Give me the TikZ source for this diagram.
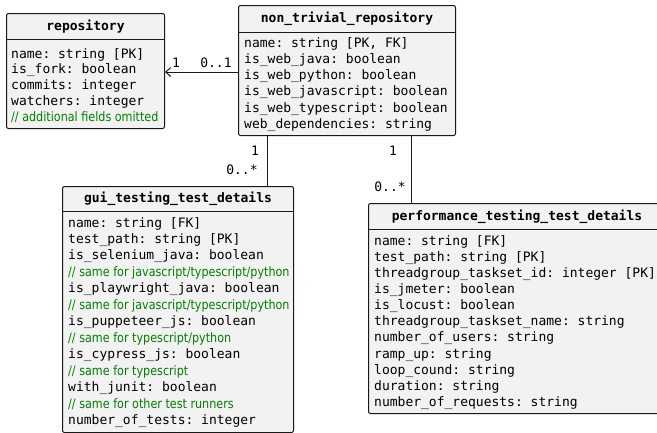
\documentclass[tikz,border=0pt]{standalone}
\usepackage{fontspec}
\setmonofont{DejaVu Sans Mono}
\newfontfamily\cmtfont[FakeStretch=0.86]{DejaVu Sans}
\usetikzlibrary{arrows.meta,calc}
\definecolor{boxfill}{HTML}{F2F2F2}
\definecolor{boxline}{HTML}{181818}
\definecolor{cmtgreen}{HTML}{008000}
\tikzset{
  classbox/.style={draw=boxline, fill=boxfill, line width=1pt, rounded corners=2pt, inner sep=0pt, anchor=north west},
  ctitle/.style={font=\fontsize{13}{16}\selectfont\ttfamily\bfseries, inner sep=0pt},
  cbody/.style={font=\fontsize{13}{#1}\selectfont\ttfamily, align=left, inner sep=0pt, anchor=north west},
  cbody/.default=16.2,
  mult/.style={font=\fontsize{13}{16}\selectfont\ttfamily, inner sep=0pt},
  link/.style={draw=boxline, line width=0.9pt},
}
\newcommand{\cmt}[1]{{\cmtfont\color{cmtgreen}#1}}
\begin{document}
\begin{tikzpicture}[x=1pt,y=-1pt]
\useasboundingbox (0,0) rectangle (657,432);

% repository
\node[classbox, minimum width=158, minimum height=115] (repo) at (6,13) {};
\draw[boxline, line width=1pt] ([yshift=-26]repo.north west) -- ([yshift=-26]repo.north east);
\node[ctitle] (repoT) at ($(repo.north)+(0,13.5)$) {repository};
\node[cbody=15.8] (repoB) at ($(repo.north west)+(5,35)$) {name: string [PK]\\is\_fork: boolean\\commits: integer\\watchers: integer\\\cmt{// additional fields omitted}};

% non_trivial_repository
\node[classbox, minimum width=217, minimum height=130] (ntr) at (238,5) {};
\draw[boxline, line width=1pt] ([yshift=-27]ntr.north west) -- ([yshift=-27]ntr.north east);
\node[ctitle] (ntrT) at ($(ntr.north)+(0,13.5)$) {non\_trivial\_repository};
\node[cbody=16.3] (ntrB) at ($(ntr.north west)+(6,32)$) {name: string [PK, FK]\\is\_web\_java: boolean\\is\_web\_python: boolean\\is\_web\_javascript: boolean\\is\_web\_typescript: boolean\\web\_dependencies: string};

% gui_testing_test_details
\node[classbox, minimum width=231, minimum height=246] (gui) at (62,186) {};
\draw[boxline, line width=1pt] ([yshift=-25]gui.north west) -- ([yshift=-25]gui.north east);
\node[ctitle] (guiT) at ($(gui.north)+(0,13)$) {gui\_testing\_test\_details};
\node[cbody=16.45] (guiB) at ($(gui.north west)+(6,31)$) {name: string [FK]\\test\_path: string [PK]\\is\_selenium\_java: boolean\\\cmt{// same for javascript/typescript/python}\\is\_playwright\_java: boolean\\\cmt{// same for javascript/typescript/python}\\is\_puppeteer\_js: boolean\\\cmt{// same for typescript/python}\\is\_cypress\_js: boolean\\\cmt{// same for typescript}\\with\_junit: boolean\\\cmt{// same for other test runners}\\number\_of\_tests: integer};

% performance_testing_test_details
\node[classbox, minimum width=295, minimum height=210] (perf) at (368,203) {};
\draw[boxline, line width=1pt] ([yshift=-26]perf.north west) -- ([yshift=-26]perf.north east);
\node[ctitle] (perfT) at (517,216.5) {performance\_testing\_test\_details};
\node[cbody=16.15] (perfB) at ($(perf.north west)+(6,32)$) {name: string [FK]\\test\_path: string [PK]\\threadgroup\_taskset\_id: integer [PK]\\is\_jmeter: boolean\\is\_locust: boolean\\threadgroup\_taskset\_name: string\\number\_of\_users: string\\ramp\_up: string\\loop\_cound: string\\duration: string\\number\_of\_requests: string};

% associations
\draw[link, -{Straight Barb[length=5pt,width=9pt,line width=1pt]}] (ntr.west |- 0,72) -- (repo.east |- 0,72);
\node[mult] (m1) at (176,63) {1};
\node[mult] (m2) at (216,63) {0..1};

\coordinate (g1) at (267,135);
\draw[link] (g1) -- (g1 |- gui.north);
\node[mult] (m3) at (255,151) {1};
\node[mult] (m4) at (242,170) {0..*};

\coordinate (p1) at (411,135);
\draw[link] (p1) -- (p1 |- perf.north);
\node[mult] (m5) at (393,151) {1};
\node[mult] (m6) at (390,187) {0..*};
\end{tikzpicture}
\end{document}
